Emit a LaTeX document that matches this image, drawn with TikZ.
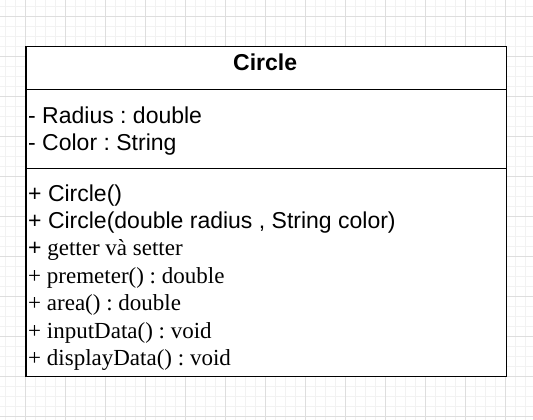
\documentclass[tikz,border=0pt]{standalone}
\usepackage{fontspec}
\setmainfont{Liberation Serif}
\newfontfamily\arial{Liberation Sans}
\frenchspacing
\begin{document}
\begin{tikzpicture}[x=1pt,y=-1pt,
  minorline/.style={draw=black!5,line width=0.8pt},
  majorline/.style={draw=black!13,line width=0.8pt},
  classbox/.style={draw=black,line width=1.2pt,inner sep=0pt,anchor=north west},
  divider/.style={draw=black,line width=1.2pt},
  sanstext/.style={anchor=base west,inner sep=0pt,font=\arial\fontsize{23}{27}\selectfont},
  seriftext/.style={anchor=base west,inner sep=0pt,font=\fontsize{23}{27}\selectfont},
  titletext/.style={anchor=base,inner sep=0pt,font=\arial\bfseries\fontsize{23}{27}\selectfont}]
\useasboundingbox (0,0) rectangle (533,420);
\fill[white] (0,0) rectangle (533,420);
% grid
\foreach \x in {5.7,15.7,...,530} {\draw[minorline] (\x,0) -- (\x,420);}
\foreach \y in {6,16,...,420} {\draw[minorline] (0,\y) -- (533,\y);}
\foreach \x in {25.7,65.7,...,530} {\draw[majorline] (\x,0) -- (\x,420);}
\foreach \y in {16,56,...,420} {\draw[majorline] (0,\y) -- (533,\y);}
% class box
\node[classbox,fill=white,minimum width=480.2pt,minimum height=329.4pt] (cls) at (25.3,46.3) {};
\coordinate (d1w) at (25.3,89.3);
\coordinate (d1e) at (505.5,89.3);
\coordinate (d2w) at (25.3,168.3);
\coordinate (d2e) at (505.5,168.3);
\draw[divider] (d1w) -- (d1e);
\draw[divider] (d2w) -- (d2e);
% title
\node[titletext] (title) at (265.2,70.3) {Circle};
% attributes
\node[sanstext] (a1) at (28,123.3) {- Radius : double};
\node[sanstext] (a2) at (28,150) {- Color : String};
% methods
\node[sanstext] (m1) at (28,201.5) {+ Circle()};
\node[sanstext] (m2) at (28,228.5) {+ Circle(double radius , String color)};
\node[anchor=base west,inner sep=0pt,font=\fontsize{23}{27}\selectfont] (m3) at (28,255.5) {{\arial +} getter và setter};
\node[seriftext] (m4) at (28,283) {+ premeter() : double};
\node[seriftext] (m5) at (28,310.5) {+ area() : double};
\node[seriftext] (m6) at (28,338) {+ inputData() : void};
\node[seriftext] (m7) at (28,365) {+ displayData() : void};
\end{tikzpicture}
\end{document}
